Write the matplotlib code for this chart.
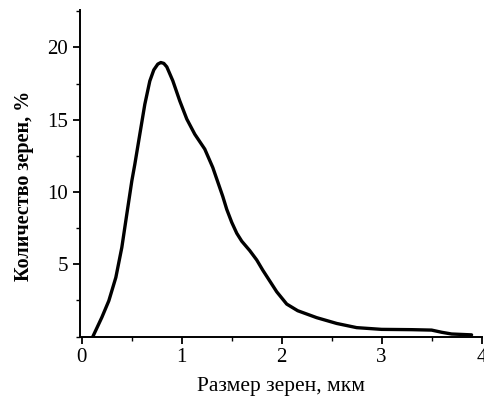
import matplotlib
matplotlib.use("Agg")
import matplotlib.pyplot as plt
from matplotlib.ticker import MultipleLocator

# Grain size distribution
size_um = [0.11, 0.20, 0.27, 0.34, 0.40, 0.45, 0.50, 0.53, 0.58, 0.63, 0.68,
           0.72, 0.76, 0.79, 0.82, 0.85, 0.91, 0.98, 1.05, 1.13, 1.23, 1.31,
           1.35, 1.41, 1.45, 1.50, 1.55, 1.60, 1.68, 1.75, 1.81, 1.95, 2.05,
           2.16, 2.35, 2.55, 2.75, 3.00, 3.30, 3.50, 3.60, 3.70, 3.90]
count_pct = [0.0, 1.33, 2.48, 4.09, 6.17, 8.48, 10.77, 11.92, 14.0, 16.07, 17.68,
             18.45, 18.85, 18.96, 18.9, 18.66, 17.7, 16.3, 15.05, 14.0, 12.97, 11.7,
             10.9, 9.7, 8.8, 7.9, 7.15, 6.6, 5.95, 5.3, 4.6, 3.1, 2.25,
             1.79, 1.31, 0.91, 0.62, 0.5, 0.48, 0.45, 0.3, 0.18, 0.12]

xlabel = "Размер зерен, мкм"
ylabel = "Количество зерен, %"

plt.rcParams["font.family"] = ["Liberation Serif", "DejaVu Serif"]

fig = plt.figure(figsize=(4.84, 3.96), dpi=100)
ax = fig.add_axes([0.165, 0.150, 0.83, 0.825])

ax.plot(size_um, count_pct, color="black", linewidth=2.4, solid_capstyle="round",
        solid_joinstyle="round")

ax.set_xlim(-0.02, 4.0)
ax.set_ylim(0, 22.6)
ax.xaxis.set_major_locator(MultipleLocator(1))
ax.xaxis.set_minor_locator(MultipleLocator(0.5))
ax.yaxis.set_minor_locator(MultipleLocator(2.5))
ax.set_yticks([5, 10, 15, 20])

for side in ("top", "right"):
    ax.spines[side].set_visible(False)
for side in ("left", "bottom"):
    ax.spines[side].set_linewidth(1.4)

ax.tick_params(which="major", direction="out", length=5, width=1.3, labelsize=15)
ax.tick_params(which="minor", direction="out", length=3, width=1.0)

ax.set_xlabel(xlabel, fontsize=15.5)
ax.set_ylabel(ylabel, fontsize=14.5, fontweight="bold")
ax.xaxis.set_label_coords(0.5, -0.125)
ax.yaxis.set_label_coords(-0.115, 0.46)

fig.savefig("out.png", dpi=100)
